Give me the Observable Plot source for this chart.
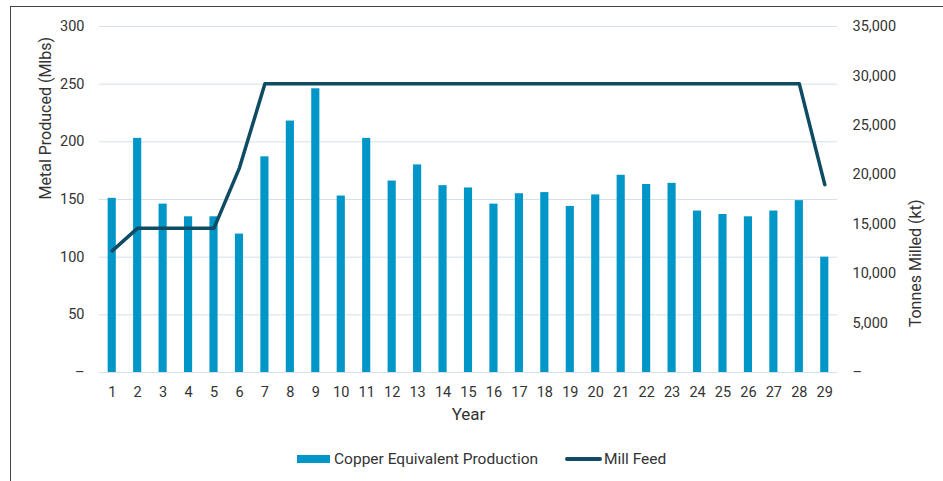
<!DOCTYPE html>
<html><head><meta charset="utf-8">
<script src="https://cdn.jsdelivr.net/npm/d3@7"></script>
<script src="https://cdn.jsdelivr.net/npm/@observablehq/plot@0.6"></script>
<style>
body{margin:0;background:#fff;font-family:Roboto,"Noto Sans",sans-serif;}
#frame{position:absolute;left:10px;top:6px;width:960px;height:500px;border:1.5px solid #444;box-sizing:border-box;}
#chart{position:absolute;left:0;top:0;}
#legend{position:absolute;top:450px;left:0;width:943px;font-size:15.5px;color:#333;}
.item{position:absolute;display:flex;align-items:center;}
</style></head><body>
<div id="frame"></div>
<div id="chart"></div>
<div id="legend">
 <div class="item" style="left:297px"><span style="display:inline-block;width:33px;height:8px;background:#0096c8;margin-right:4px"></span>Copper Equivalent Production</div>
 <div class="item" style="left:565px"><span style="display:inline-block;width:37px;height:4px;border-radius:2px;background:#0f4b63;margin-right:2px"></span>Mill Feed</div>
</div>
<script>
const years = d3.range(1, 30);
const copperEq = [151,203,146,135,135,120,187,218,246,153,203,166,180,162,160,146,155,156,144,154,171,163,164,140,137,135,140,149,100];
const millFeed = [12300,14600,14600,14600,14600,20700,29200,29200,29200,29200,29200,29200,29200,29200,29200,29200,29200,29200,29200,29200,29200,29200,29200,29200,29200,29200,29200,29200,19000];
const leftTicks = [0,50,100,150,200,250,300];
const rightTicks = [0,5000,10000,15000,20000,25000,30000,35000];
const leftMax = 300, rightMax = 35000;
const toLeft = v => v * leftMax / rightMax;

const bars = years.map((y,i)=>({year:y, value:copperEq[i]}));
const line = years.map((y,i)=>({year:y, value:toLeft(millFeed[i])}));

const chart = Plot.plot({
  width: 943, height: 440,
  marginLeft: 99, marginRight: 106, marginTop: 26, marginBottom: 68,
  style:{fontFamily:"Roboto, sans-serif", fontSize:"14px", color:"#333", background:"transparent"},
  x:{type:"band", domain: years, paddingInner:0.68, paddingOuter:0.34, round:false, label:null},
  y:{domain:[0,leftMax], label:null},
  marks:[
    Plot.gridY(leftTicks, {stroke:"#d6e0ea", strokeOpacity:1, strokeWidth:1}),
    Plot.barY(bars, {x:"year", y:"value", fill:"#0096c8"}),
    Plot.lineY(line, {x:"year", y:"value", stroke:"#0f4b63", strokeWidth:3.5, strokeLinejoin:"round", curve:"linear"}),
    Plot.axisX({tickSize:0, tickPadding:14, fontSize:14.5, label:null}),
    Plot.axisY({anchor:"left", ticks:leftTicks, tickSize:0, tickPadding:15, fontSize:14.5,
      tickFormat:d=> d===0 ? "–" : String(d), label:null}),
    Plot.axisY({anchor:"right", ticks:rightTicks.map(toLeft), tickSize:0, tickPadding:15, fontSize:14.5,
      tickFormat:d=>{const v=Math.round(d*rightMax/leftMax); return v===0 ? "–" : d3.format(",")(v);}, label:null}),
    Plot.text(["Metal Produced (Mlbs)"], {frameAnchor:"left", dx:-54, dy:0, rotate:-90, fontSize:16, fill:"#333"}),
    Plot.text(["Tonnes Milled (kt)"], {frameAnchor:"right", dx:78, rotate:-90, fontSize:16, fill:"#333"}),
    Plot.text(["Year"], {frameAnchor:"bottom", dy:47, fontSize:17, fill:"#333"})
  ]
});
document.getElementById("chart").appendChild(chart);
</script>
</body></html>
